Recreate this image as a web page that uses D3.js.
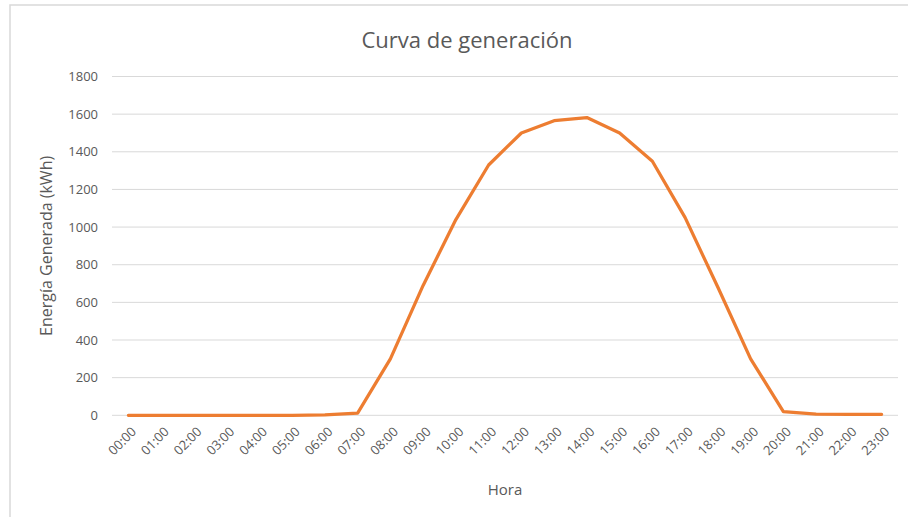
<!DOCTYPE html>
<html>
<head>
<meta charset="utf-8">
<script src="https://cdn.jsdelivr.net/npm/d3@7"></script>
<style>
  html, body { margin: 0; padding: 0; background: #fff; }
  svg { display: block; }
  text { font-family: "Open Sans", Lato, sans-serif; fill: #595959; }
</style>
</head>
<body>
<svg id="chart" width="908" height="517"></svg>
<script>
// Hourly generation profile
const hours = ["00:00","01:00","02:00","03:00","04:00","05:00","06:00","07:00",
               "08:00","09:00","10:00","11:00","12:00","13:00","14:00","15:00",
               "16:00","17:00","18:00","19:00","20:00","21:00","22:00","23:00"];
const energy = [0, 0, 0, 0, 0, 0, 2, 12,
                300, 690, 1040, 1330, 1500, 1565, 1582, 1500,
                1350, 1050, 680, 300, 20, 6, 5, 5];
const yTicks = [0, 200, 400, 600, 800, 1000, 1200, 1400, 1600, 1800];

const titleText = "Curva de generación";
const yTitle = "Energía Generada (kWh)";
const xTitle = "Hora";

const svg = d3.select("#chart");
const plot = { left: 112, right: 898, top: 76.5, bottom: 415.3 };
const fontStack = "'Open Sans', Lato, sans-serif";

// chart frame
svg.append("rect")
  .attr("x", 10).attr("y", 5)
  .attr("width", 1000).attr("height", 1000)
  .attr("fill", "#fff")
  .attr("stroke", "#d9d9d9").attr("stroke-width", 1.5);

const x = d3.scalePoint()
  .domain(hours)
  .range([plot.left, plot.right])
  .padding(0.5);

const y = d3.scaleLinear()
  .domain([0, 1800])
  .range([plot.bottom, plot.top]);

// horizontal gridlines
svg.append("g")
  .selectAll("line")
  .data(yTicks)
  .join("line")
  .attr("x1", plot.left).attr("x2", plot.right)
  .attr("y1", d => y(d)).attr("y2", d => y(d))
  .attr("stroke", "#d9d9d9").attr("stroke-width", 1);

// y axis labels
const yAxis = d3.axisLeft(y)
  .tickValues(yTicks)
  .tickFormat(d3.format("d"))
  .tickSize(0)
  .tickPadding(14);
const gy = svg.append("g")
  .attr("transform", `translate(${plot.left},0)`)
  .call(yAxis);
gy.select(".domain").remove();
gy.selectAll("text")
  .style("font-family", fontStack)
  .style("font-size", "13px")
  .attr("fill", "#595959");

// x axis labels
const xAxis = d3.axisBottom(x).tickSize(0).tickPadding(0);
const gx = svg.append("g")
  .attr("transform", `translate(0,${plot.bottom})`)
  .call(xAxis);
gx.select(".domain").remove();
gx.selectAll("text")
  .style("font-family", fontStack)
  .style("font-size", "13px")
  .attr("fill", "#595959")
  .attr("text-anchor", "end")
  .attr("dy", "0.35em")
  .attr("transform", "translate(5,14) rotate(-45)");

// generation curve
const line = d3.line()
  .x((d, i) => x(hours[i]))
  .y(d => y(d));

svg.append("path")
  .datum(energy)
  .attr("d", line)
  .attr("fill", "none")
  .attr("stroke", "#ED7D31")
  .attr("stroke-width", 3.25)
  .attr("stroke-linejoin", "round")
  .attr("stroke-linecap", "round");

// title
svg.append("text")
  .attr("x", 467).attr("y", 48)
  .attr("text-anchor", "middle")
  .style("font-size", "22px")
  .text(titleText);

// axis titles
svg.append("text")
  .attr("transform", `translate(52,${(plot.top + plot.bottom) / 2}) rotate(-90)`)
  .attr("text-anchor", "middle")
  .style("font-size", "16px")
  .text(yTitle);

svg.append("text")
  .attr("x", (plot.left + plot.right) / 2).attr("y", 495)
  .attr("text-anchor", "middle")
  .style("font-size", "15px")
  .text(xTitle);
</script>
</body>
</html>
